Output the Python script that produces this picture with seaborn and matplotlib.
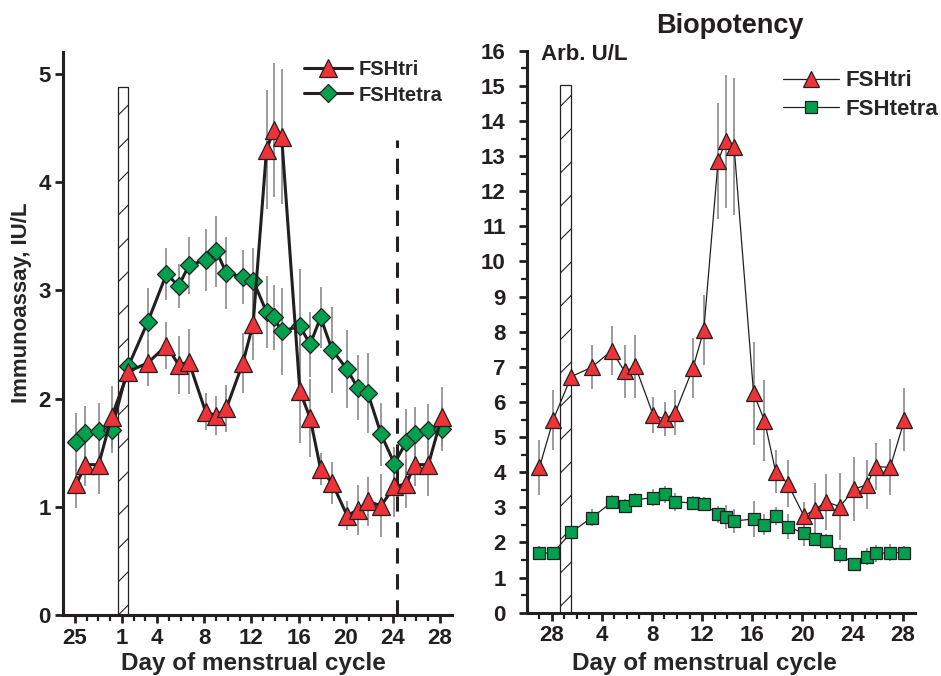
import numpy as np
import pandas as pd
import matplotlib
matplotlib.use("Agg")
import matplotlib.pyplot as plt
import seaborn as sns

# day of cycle (negative / zero = last days of the previous cycle)
days = [-2.86, -2.10, -0.98, 0.12, 1.55, 3.20, 4.78, 5.82, 6.68, 8.10,
        9.02, 9.87, 11.27, 12.14, 13.28, 13.90, 14.56, 16.11, 16.98, 17.87,
        18.85, 20.12, 21.01, 21.88, 23.01, 24.13, 25.15, 25.85, 27.02, 28.15]

# immunoassay, IU/L
ia_tri = [1.21, 1.39, 1.39, 1.83, 2.25, 2.33, 2.49, 2.31, 2.34, 1.88,
          1.84, 1.91, 2.33, 2.69, 4.30, 4.48, 4.42, 2.07, 1.82, 1.35,
          1.22, 0.92, 0.97, 1.05, 1.01, 1.19, 1.21, 1.39, 1.39, 1.83]
ia_tri_err = [0.22, 0.20, 0.27, 0.29, 0.30, 0.21, 0.22, 0.27, 0.30, 0.17,
              0.18, 0.22, 0.28, 0.33, 0.55, 0.62, 0.62, 0.48, 0.36, 0.15,
              0.19, 0.13, 0.23, 0.23, 0.29, 0.28, 0.22, 0.20, 0.29, 0.28]
ia_tetra = [1.60, 1.68, 1.70, 1.71, 2.30, 2.71, 3.15, 3.04, 3.23, 3.28,
            3.36, 3.16, 3.12, 3.09, 2.80, 2.75, 2.62, 2.67, 2.50, 2.75,
            2.45, 2.27, 2.10, 2.05, 1.67, 1.40, 1.60, 1.67, 1.71, 1.72]
ia_tetra_err = [0.27, 0.25, 0.26, 0.21, 0.35, 0.31, 0.24, 0.20, 0.26, 0.29,
                0.33, 0.33, 0.25, 0.30, 0.33, 0.30, 0.40, 0.53, 0.30, 0.28,
                0.40, 0.36, 0.30, 0.37, 0.29, 0.15, 0.30, 0.25, 0.24, 0.20]

# biopotency, arb. U/L (starts at day 27 of previous cycle)
bio_days = days[2:]
bio_tri = [4.14, 5.49, 6.72, 6.99, 7.46, 6.87, 7.01, 5.63, 5.51, 5.70,
           6.96, 8.05, 12.87, 13.42, 13.26, 6.25, 5.47, 4.02, 3.67, 2.76,
           2.93, 3.16, 3.02, 3.52, 3.64, 4.16, 4.14, 5.49]
bio_tri_err = [0.78, 0.85, 0.92, 0.62, 0.70, 0.75, 0.90, 0.50, 0.48, 0.65,
               0.85, 1.00, 1.65, 1.90, 1.95, 1.47, 1.15, 0.62, 0.67, 0.40,
               0.75, 0.80, 0.95, 0.92, 0.70, 0.67, 0.80, 0.90]
bio_tetra = [1.69, 1.71, 2.29, 2.71, 3.14, 3.04, 3.21, 3.28, 3.37, 3.16,
             3.12, 3.09, 2.80, 2.72, 2.61, 2.67, 2.50, 2.76, 2.45, 2.26,
             2.10, 2.04, 1.67, 1.39, 1.60, 1.69, 1.71, 1.71]
bio_tetra_err = [0.20, 0.15, 0.30, 0.25, 0.20, 0.20, 0.20, 0.25, 0.25, 0.25,
                 0.20, 0.20, 0.25, 0.35, 0.35, 0.50, 0.30, 0.25, 0.35, 0.35,
                 0.20, 0.20, 0.25, 0.15, 0.25, 0.25, 0.25, 0.20]

# menses bar (start, end day) and its heights, end-of-cycle marker
menses = (0.67, 1.52)
menses_top_ia = 4.88
menses_top_bio = 15.03
dash_day = 24.36
dash_top = 4.39

ia_ticks = [-3, 1, 4, 8, 12, 16, 20, 24, 28]
ia_ticklabels = ["25", "1", "4", "8", "12", "16", "20", "24", "28"]
bio_ticks = [0, 4, 8, 12, 16, 20, 24, 28]
bio_ticklabels = ["28", "4", "8", "12", "16", "20", "24", "28"]

RED = "#EE3338"
GREEN = "#00A04F"
DARK = "#231f20"
GREY = "#8a8a8a"

sns.set_style("ticks")
plt.rcParams["font.family"] = ["Liberation Sans", "DejaVu Sans"]
plt.rcParams["font.weight"] = "bold"
plt.rcParams["hatch.linewidth"] = 0.8
plt.rcParams["hatch.color"] = DARK

fig = plt.figure(figsize=(9.41, 6.76), dpi=100)
ax1 = fig.add_axes([0.067, 0.090, 0.413, 0.833])
ax2 = fig.add_axes([0.5597, 0.0936, 0.4127, 0.8314])


def draw_series(ax, x, y, err, marker, ms, face, lw, label):
    ax.errorbar(x, y, yerr=err, fmt="none", ecolor=GREY, elinewidth=1.2,
                capsize=0, zorder=1)
    sns.lineplot(x=x, y=y, ax=ax, sort=False, errorbar=None, color=DARK,
                 lw=lw, marker=marker, markersize=ms, markerfacecolor=face,
                 markeredgecolor=DARK, markeredgewidth=0.9, zorder=3)
    line = ax.get_lines()[-1]
    line.set_label(label)
    return line


# ---- left: immunoassay
ax1.bar((menses[0] + menses[1]) / 2, menses_top_ia, width=menses[1] - menses[0],
        color="white", edgecolor=DARK, hatch="/", linewidth=0.9, zorder=2)
ax1.vlines(dash_day, 0, dash_top, colors=DARK, linewidth=2.2,
           linestyles=(0, (5, 3.5)), zorder=2)
h_tetra = draw_series(ax1, days, ia_tetra, ia_tetra_err, "D", 8.8, GREEN, 2.2, "FSHtetra")
h_tri = draw_series(ax1, days, ia_tri, ia_tri_err, "^", 12.5, RED, 2.2, "FSHtri")

ax1.set_xlim(-4, 29)
ax1.set_ylim(0, 5.2)
ax1.set_xticks(ia_ticks)
ax1.set_xticklabels(ia_ticklabels)
ax1.set_xticks(np.arange(-3, 29), minor=True)
ax1.set_yticks(range(6))
ax1.legend(handles=[h_tri, h_tetra], loc="upper left", bbox_to_anchor=(0.62, 0.985),
           frameon=False, fontsize=14.5, handlelength=2.4, handletextpad=0.3,
           labelspacing=0.3, borderpad=0, borderaxespad=0)
ax1.set_ylabel("Immunoassay, IU/L", fontsize=16, fontweight="bold")
ax1.yaxis.set_label_coords(-0.08, 0.554)
ax1.set_xlabel("Day of menstrual cycle", fontsize=17.5, fontweight="bold")
ax1.xaxis.set_label_coords(0.491, -0.066)

# ---- right: biopotency
ax2.bar((menses[0] + 1.5) / 2, menses_top_bio, width=1.5 - menses[0],
        color="white", edgecolor=DARK, hatch="/", linewidth=0.9, zorder=2)
b_tetra = draw_series(ax2, bio_days, bio_tetra, bio_tetra_err, "s", 8, GREEN, 0.9, "FSHtetra")
b_tri = draw_series(ax2, bio_days, bio_tri, bio_tri_err, "^", 11.5, RED, 0.9, "FSHtri")

ax2.set_xlim(-2, 29)
ax2.set_ylim(0, 16)
ax2.set_xticks(bio_ticks)
ax2.set_xticklabels(bio_ticklabels)
ax2.set_xticks(np.arange(-1, 29), minor=True)
ax2.set_yticks(range(17))
ax2.set_yticks(np.arange(0.5, 16, 1), minor=True)
ax2.legend(handles=[b_tri, b_tetra], loc="upper left", bbox_to_anchor=(0.66, 0.965),
           frameon=False, fontsize=16, handlelength=2.5, handletextpad=0.3,
           labelspacing=0.35, borderpad=0, borderaxespad=0)
ax2.set_ylabel("")
ax2.set_xlabel("Day of menstrual cycle", fontsize=17.5, fontweight="bold")
ax2.xaxis.set_label_coords(0.457, -0.070)

for ax in (ax1, ax2):
    for side in ("top", "right"):
        ax.spines[side].set_visible(False)
    for side in ("left", "bottom"):
        ax.spines[side].set_linewidth(2.2)
        ax.spines[side].set_color(DARK)
    ax.tick_params(which="major", direction="out", length=6, width=2,
                   labelsize=16, color=DARK, labelcolor=DARK, pad=3)
    ax.tick_params(which="minor", direction="out", length=4, width=1.6, color=DARK)
    for t in ax.get_xticklabels() + ax.get_yticklabels():
        t.set_fontweight("bold")
ax2.tick_params(axis="y", which="major", pad=9)

fig.text(730 / 941, 1 - 26 / 676, "Biopotency", ha="center", va="center",
         fontsize=19.5, fontweight="bold", color=DARK)
fig.text(541 / 941, 1 - 55 / 676, "Arb. U/L", ha="left", va="center",
         fontsize=16, fontweight="bold", color=DARK)

fig.savefig("out.png", dpi=100)
